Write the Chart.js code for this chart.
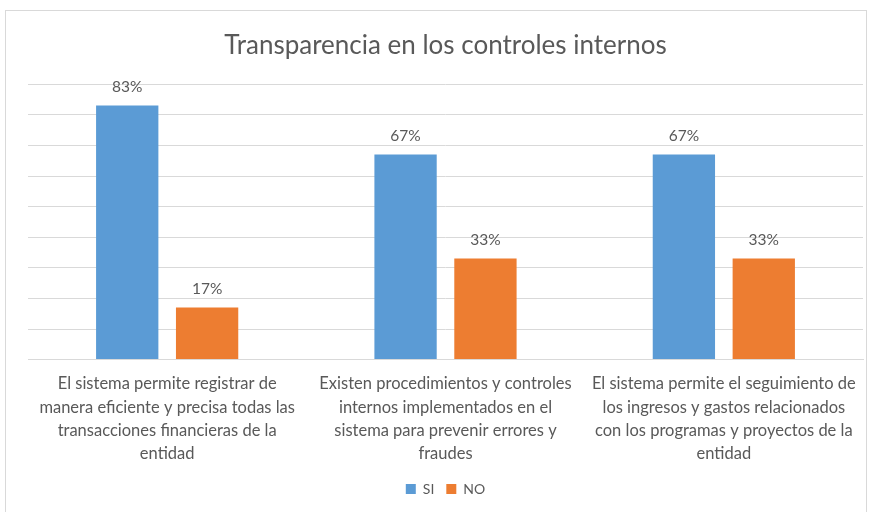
<!DOCTYPE html>
<html>
<head>
<meta charset="utf-8">
<script src="https://cdn.jsdelivr.net/npm/chart.js@4/dist/chart.umd.min.js"></script>
<style>
  html, body { margin: 0; padding: 0; background: #ffffff; }
  #wrap { position: absolute; left: 0; top: 0; width: 872px; height: 512px; }
  #frame { position: absolute; left: 5px; top: 10px; width: 862px; height: 520px; border: 1px solid #d9d9d9; box-sizing: border-box; }
</style>
</head>
<body>
<div id="frame"></div>
<div id="wrap"><canvas id="c" width="872" height="512"></canvas></div>
<script>
const categories = [
  ["El sistema permite registrar de", "manera eficiente y precisa todas las", "transacciones financieras de la", "entidad"],
  ["Existen procedimientos y controles", "internos implementados en el", "sistema para prevenir errores y", "fraudes"],
  ["El sistema permite el seguimiento de", "los ingresos y gastos relacionados", "con los programas y proyectos de la", "entidad"]
];
const seriesNames = ["SI", "NO"];
const siValues = [83, 67, 67];
const noValues = [17, 33, 33];
const chartTitle = "Transparencia en los controles internos";

const FONT = "Lato, 'Open Sans', sans-serif";
const GRAY = "#595959";

const valueLabels = {
  id: "valueLabels",
  afterDatasetsDraw(chart) {
    const ctx = chart.ctx;
    ctx.save();
    ctx.font = "15.5px " + FONT;
    ctx.fillStyle = GRAY;
    ctx.textAlign = "center";
    ctx.textBaseline = "bottom";
    chart.data.datasets.forEach((ds, i) => {
      const meta = chart.getDatasetMeta(i);
      meta.data.forEach((el, j) => {
        ctx.fillText(ds.data[j] + "%", el.x, el.y - 11);
      });
    });
    ctx.restore();
  }
};

new Chart(document.getElementById("c"), {
  type: "bar",
  data: {
    labels: categories,
    datasets: [
      { label: seriesNames[0], data: siValues, backgroundColor: "#5B9BD5", categoryPercentage: 0.574, barPercentage: 0.78 },
      { label: seriesNames[1], data: noValues, backgroundColor: "#ED7D31", categoryPercentage: 0.574, barPercentage: 0.78 }
    ]
  },
  options: {
    responsive: false,
    animation: false,
    layout: { padding: { top: 30, left: 28, right: 9, bottom: 6 } },
    plugins: {
      title: {
        display: true,
        text: chartTitle,
        color: GRAY,
        font: { family: FONT, size: 26, weight: "normal" },
        padding: { top: 0, bottom: 23 }
      },
      legend: {
        position: "bottom",
        labels: { boxWidth: 10, boxHeight: 10, color: GRAY, font: { family: FONT, size: 14 }, padding: 12 }
      },
      tooltip: { enabled: false }
    },
    scales: {
      y: {
        min: 0, max: 90,
        ticks: { display: false, stepSize: 10 },
        grid: { color: "#d9d9d9", drawTicks: false },
        border: { display: false }
      },
      x: {
        grid: { display: false },
        border: { color: "#d9d9d9" },
        ticks: { color: GRAY, font: { family: FONT, size: 16.5, lineHeight: 1.4 }, maxRotation: 0, autoSkip: false, padding: 5 }
      }
    }
  },
  plugins: [valueLabels]
});
</script>
</body>
</html>
